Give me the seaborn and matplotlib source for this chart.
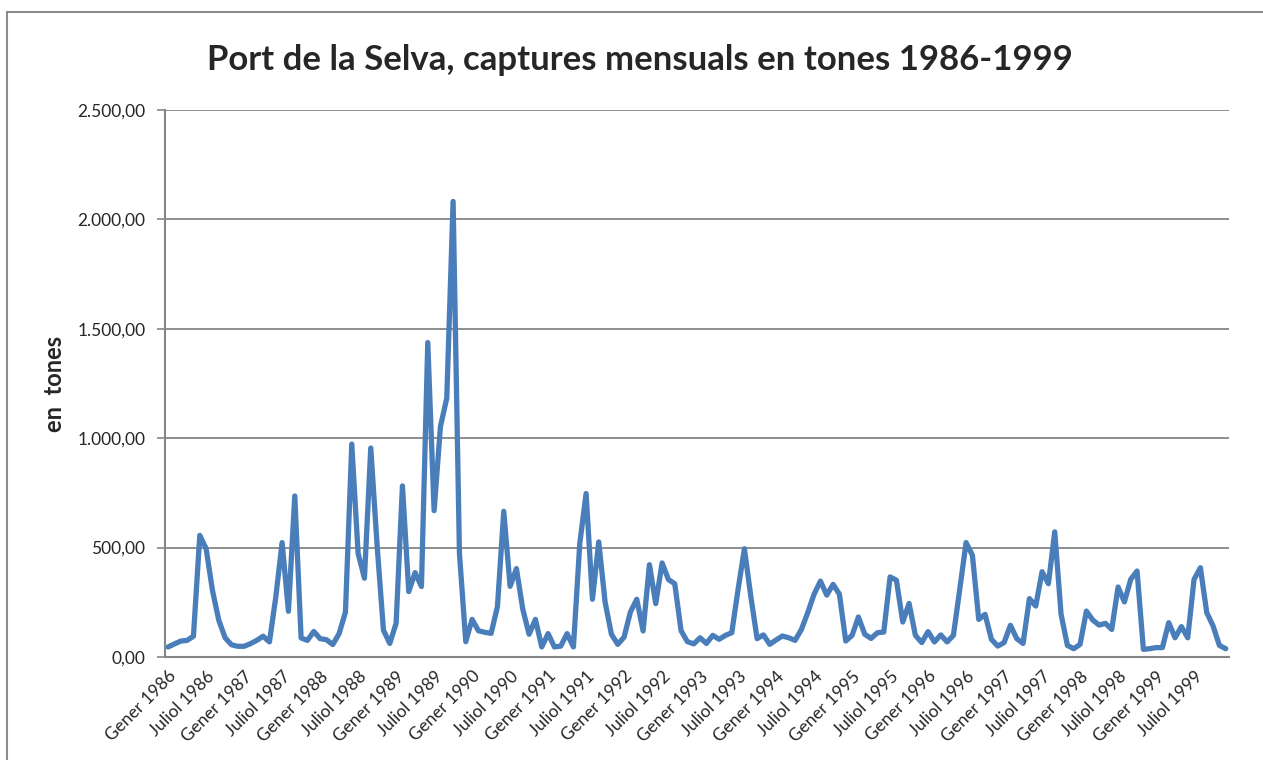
import numpy as np
import matplotlib
matplotlib.use("Agg")
import matplotlib.pyplot as plt
import matplotlib.ticker as mticker
from matplotlib.patches import Rectangle
import seaborn as sns
import pandas as pd

# monthly catches (tones), Gener 1986 .. Desembre 1999
y1986 = [46, 60, 73, 76, 95, 556, 495, 305, 168, 88, 56, 49]
y1987 = [49, 61, 76, 95, 69, 274, 523, 209, 736, 87, 76, 117]
y1988 = [84, 79, 57, 107, 205, 973, 474, 360, 955, 510, 123, 62]
y1989 = [154, 782, 299, 386, 322, 1437, 669, 1053, 1183, 2082, 474, 70]
y1990 = [172, 120, 113, 108, 230, 666, 323, 404, 219, 104, 172, 46]
y1991 = [107, 46, 50, 107, 46, 518, 747, 264, 526, 251, 104, 58]
y1992 = [91, 206, 264, 119, 422, 244, 430, 354, 335, 120, 70, 60]
y1993 = [88, 62, 99, 81, 99, 111, 309, 495, 279, 84, 101, 58]
y1994 = [78, 96, 88, 76, 126, 203, 287, 347, 283, 332, 287, 73]
y1995 = [99, 183, 104, 85, 111, 114, 366, 351, 160, 245, 99, 66]
y1996 = [116, 69, 101, 69, 99, 309, 523, 465, 172, 195, 81, 50]
y1997 = [66, 145, 84, 62, 267, 233, 390, 335, 572, 195, 53, 38]
y1998 = [58, 210, 169, 146, 154, 126, 320, 252, 355, 393, 35, 38]
y1999 = [43, 43, 157, 88, 139, 88, 355, 408, 203, 142, 53, 38]

years = list(range(1986, 2000))
values = (y1986 + y1987 + y1988 + y1989 + y1990 + y1991 + y1992 +
          y1993 + y1994 + y1995 + y1996 + y1997 + y1998 + y1999)
tick_labels = []
for yr in years:
    tick_labels.append('Gener %d' % yr)
    tick_labels.append('Juliol %d' % yr)

df = pd.DataFrame({'mes': np.arange(len(values)), 'tones': values})

sns.set_style('white')
plt.rcParams['font.family'] = ['Lato', 'DejaVu Sans']

fig = plt.figure(figsize=(12.63, 7.60), dpi=100)
ax = fig.add_axes([0.1306, 0.1355, 0.8424, 0.7198])

sns.lineplot(data=df, x='mes', y='tones', ax=ax, color='#4a7ebb',
             linewidth=3.8, solid_joinstyle='round', solid_capstyle='round')

grid_col = '#868686'
ax.set_xlim(-0.5, len(values) - 0.5)
ax.set_ylim(0, 2500)
ax.yaxis.set_major_locator(mticker.MultipleLocator(500))
ax.yaxis.set_major_formatter(mticker.FuncFormatter(
    lambda v, p: '{:,.2f}'.format(v).replace(',', 'X').replace('.', ',').replace('X', '.')))
ax.yaxis.grid(True, color=grid_col, linewidth=1.3)
ax.set_axisbelow(True)

ax.set_xticks(np.arange(0, len(values), 6))
ax.set_xticklabels(tick_labels, rotation=45, ha='right', rotation_mode='anchor', fontsize=12.5)
ax.set_xticks(np.arange(-0.5, len(values), 1), minor=True)
ax.tick_params(axis='x', which='major', length=0, pad=8)
ax.tick_params(axis='x', which='minor', length=5, width=1.2, color=grid_col, direction='out')
ax.tick_params(axis='y', length=6, width=1.2, color=grid_col, labelsize=12.5, pad=8, direction='out', left=True)

for s in ['top', 'right']:
    ax.spines[s].set_visible(False)
for s in ['left', 'bottom']:
    ax.spines[s].set_color(grid_col)
    ax.spines[s].set_linewidth(1.5)

ax.set_xlabel('')
ax.set_ylabel('en  tones', fontsize=17, fontweight='bold', labelpad=8)
fig.suptitle('Port de la Selva, captures mensuals en tones 1986-1999',
             x=0.507, y=0.942, fontsize=25, fontweight='bold')

fig.patches.append(Rectangle((7 / 1263, -0.1), 1.2, 1.084, transform=fig.transFigure,
                             fill=False, edgecolor='#8c8c8c', linewidth=1.5))

fig.savefig('out.png', dpi=100)
